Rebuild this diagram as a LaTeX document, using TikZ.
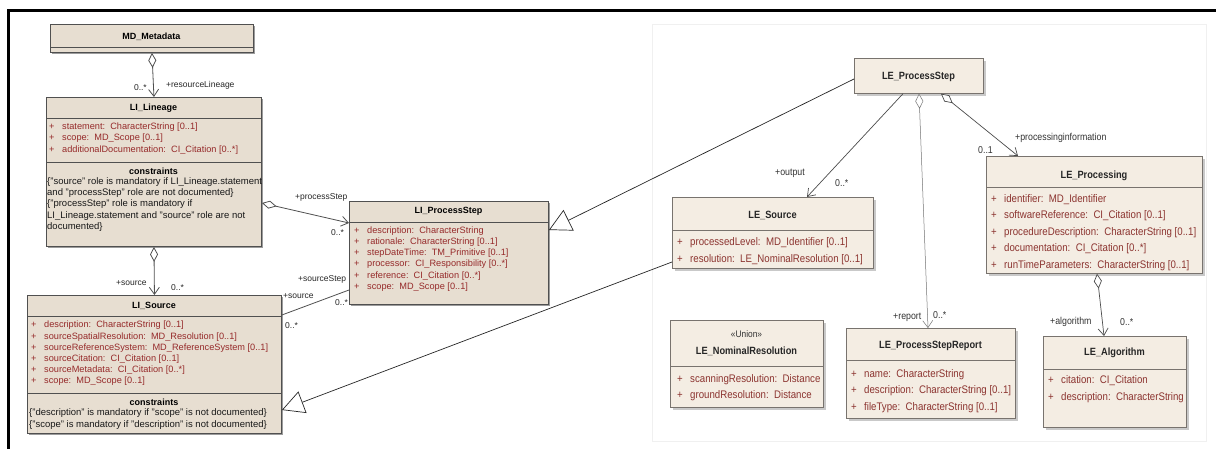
\documentclass[tikz,border=0pt]{standalone}
\usepackage{fontspec}
\setmainfont{Liberation Sans}
\newfontfamily\narrowfont[FakeStretch=0.88]{Liberation Sans}
\usetikzlibrary{arrows.meta,shadows}

\definecolor{lfill}{RGB}{231,222,209}
\definecolor{rfill}{RGB}{244,237,227}
\definecolor{boxline}{RGB}{80,80,80}
\definecolor{rline}{RGB}{120,115,110}
\definecolor{attrred}{RGB}{150,42,42}
\definecolor{rattrred}{RGB}{140,52,48}

\newcommand{\pl}{\makebox[13pt][l]{+}}

\tikzset{
  lbox/.style={draw=boxline, line width=0.9pt, fill=lfill, inner sep=0, anchor=north west,
    drop shadow={shadow xshift=2pt, shadow yshift=-2pt, fill=black!55, opacity=0.7}},
  rbox/.style={draw=rline, line width=0.7pt, fill=rfill, inner sep=0, anchor=north west,
    drop shadow={shadow xshift=3pt, shadow yshift=-3pt, fill=black!35, opacity=0.6}},
  lsep/.style={draw=boxline, line width=0.9pt},
  rsep/.style={draw=rline, line width=0.7pt},
  ltitle/.style={font=\bfseries\fontsize{9}{11}\selectfont, inner sep=0},
  rtitle/.style={font=\narrowfont\bfseries\fontsize{10.5}{12}\selectfont, inner sep=0, text=black!85},
  lattr/.style={anchor=west, align=left, inner sep=0, text=attrred, font=\fontsize{9.2}{11.2}\selectfont},
  lcons/.style={anchor=west, align=left, inner sep=0, text=black!90, font=\fontsize{9.5}{11.25}\selectfont},
  rattr/.style={anchor=west, align=left, inner sep=0, text=rattrred, font=\narrowfont\fontsize{11}{16.6}\selectfont},
  lab/.style={inner sep=0, text=black!85, font=\fontsize{8.5}{10}\selectfont},
  rlab/.style={inner sep=0, text=black!80, font=\narrowfont\fontsize{10}{12}\selectfont},
  assoc/.style={draw=boxline, line width=0.8pt},
  rassoc/.style={draw=black!70, line width=0.7pt},
  agg/.style={{Diamond[length=15pt,width=8pt,fill=white]}-{Straight Barb[length=7pt,width=10pt]}},
  nav/.style={-{Straight Barb[length=7pt,width=10pt]}},
  gen/.style={draw=black!85, line width=0.7pt, -{Triangle[length=22pt,width=23pt,fill=white]}},
}

\begin{document}
\begin{tikzpicture}[x=1pt,y=-1pt]
\useasboundingbox (0,0) rectangle (1216,449);
\fill[white] (0,0) rectangle (1216,449);

% outer frame (top and left rules)
\draw[line width=3pt] (8.5,449) -- (8.5,11) -- (1216,11);
% faint panel behind the LE_ classes
\draw[black!6, line width=0.6pt] (652,24) rectangle (1206,441);

% ---------- LI_ package ----------
\node[lbox, minimum width=203, minimum height=28] (md) at (50,24) {};
\draw[lsep] ([yshift=-23pt]md.north west) -- ([yshift=-23pt]md.north east);
\node[ltitle] (md-t) at (151.5,37) {MD\_Metadata};

\node[lbox, minimum width=215, minimum height=149] (lin) at (46,97) {};
\draw[lsep] ([yshift=-21pt]lin.north west) -- ([yshift=-21pt]lin.north east);
\draw[lsep] ([yshift=-65pt]lin.north west) -- ([yshift=-65pt]lin.north east);
\node[ltitle] (lin-t) at (153.5,108) {LI\_Lineage};
\node[lattr] (lin-a) at (49,138.5) {\pl statement:\ \ CharacterString [0..1]\\ \pl scope:\ \ MD\_Scope [0..1]\\ \pl additionalDocumentation:\ \ CI\_Citation [0..*]};
\node[ltitle] (lin-c) at (153.5,171) {constraints};
\node[lcons] (lin-ct) at (47,204.5) {\{"source" role is mandatory if LI\_Lineage.statement\\ and "processStep" role are not documented\}\\ \{"processStep" role is mandatory if\\ LI\_Lineage.statement and "source" role are not\\ documented\}};

\node[lbox, minimum width=254, minimum height=138] (lis) at (27,295) {};
\draw[lsep] ([yshift=-21pt]lis.north west) -- ([yshift=-21pt]lis.north east);
\draw[lsep] ([yshift=-98pt]lis.north west) -- ([yshift=-98pt]lis.north east);
\node[ltitle] (lis-t) at (154,306) {LI\_Source};
\node[lattr] (lis-a) at (31,353.5) {\pl description:\ \ CharacterString [0..1]\\ \pl sourceSpatialResolution:\ \ MD\_Resolution [0..1]\\ \pl sourceReferenceSystem:\ \ MD\_ReferenceSystem [0..1]\\ \pl sourceCitation:\ \ CI\_Citation [0..1]\\ \pl sourceMetadata:\ \ CI\_Citation [0..*]\\ \pl scope:\ \ MD\_Scope [0..1]};
\node[ltitle] (lis-c) at (154,402) {constraints};
\node[lcons] (lis-ct) at (29,419) {\{"description" is mandatory if "scope" is not documented\}\\ \{"scope" is mandatory if "description" is not documented\}};

\node[lbox, minimum width=199, minimum height=103] (lip) at (349,201) {};
\draw[lsep] ([yshift=-21pt]lip.north west) -- ([yshift=-21pt]lip.north east);
\node[ltitle] (lip-t) at (448.5,211) {LI\_ProcessStep};
\node[lattr] (lip-a) at (354,259) {\pl description:\ \ CharacterString\\ \pl rationale:\ \ CharacterString [0..1]\\ \pl stepDateTime:\ \ TM\_Primitive [0..1]\\ \pl processor:\ \ CI\_Responsibility [0..*]\\ \pl reference:\ \ CI\_Citation [0..*]\\ \pl scope:\ \ MD\_Scope [0..1]};

% LI_ associations
\draw[assoc, agg] (md.south) -- (lin.north);
\draw[assoc, agg] (lin.south) -- (lis.north);
\draw[assoc, agg] ([yshift=-106pt]lin.north east) -- ([yshift=-22pt]lip.north west);
\draw[assoc] ([yshift=-20pt]lis.north east) -- ([yshift=-89pt]lip.north west);

\node[lab, anchor=east] (l-md1) at (147,88) {0..*};
\node[lab, anchor=west] (l-md2) at (166,85) {+resourceLineage};
\node[lab, anchor=west] (l-ps1) at (295,197) {+processStep};
\node[lab, anchor=west] (l-ps2) at (331,233) {0..*};
\node[lab, anchor=west] (l-ss1) at (298,279) {+sourceStep};
\node[lab, anchor=west] (l-ss2) at (283,296) {+source};
\node[lab, anchor=west] (l-ss3) at (285,326) {0..*};
\node[lab, anchor=west] (l-ss4) at (335,303) {0..*};
\node[lab, anchor=west] (l-so1) at (116,283) {+source};
\node[lab, anchor=west] (l-so2) at (171,288) {0..*};

% ---------- LE_ package ----------
\node[rbox, minimum width=129, minimum height=35] (leps) at (854,58) {};
\node[rtitle] (leps-t) at (918.5,76.5) {LE\_ProcessStep};

\node[rbox, minimum width=201, minimum height=71] (les) at (672,197) {};
\draw[rsep] ([yshift=-33pt]les.north west) -- ([yshift=-33pt]les.north east);
\node[rtitle] (les-t) at (772.5,215) {LE\_Source};
\node[rattr] (les-a) at (677,251) {\pl processedLevel:\ \ MD\_Identifier [0..1]\\ \pl resolution:\ \ LE\_NominalResolution [0..1]};

\node[rbox, minimum width=153, minimum height=87] (lenr) at (670,320) {};
\draw[rsep] ([yshift=-46pt]lenr.north west) -- ([yshift=-46pt]lenr.north east);
\node[inner sep=0, font=\narrowfont\fontsize{9.5}{11}\selectfont, text=black!80] (lenr-s) at (746.5,334.5) {«Union»};
\node[rtitle] (lenr-t) at (746.5,351) {LE\_NominalResolution};
\node[rattr] (lenr-a) at (677,387.5) {\pl scanningResolution:\ \ Distance\\ \pl groundResolution:\ \ Distance};

\node[rbox, minimum width=169, minimum height=90] (lepsr) at (846,328) {};
\draw[rsep] ([yshift=-32pt]lepsr.north west) -- ([yshift=-32pt]lepsr.north east);
\node[rtitle] (lepsr-t) at (930.5,345.5) {LE\_ProcessStepReport};
\node[rattr] (lepsr-a) at (851,391) {\pl name:\ \ CharacterString\\ \pl description:\ \ CharacterString [0..1]\\ \pl fileType:\ \ CharacterString [0..1]};

\node[rbox, minimum width=216, minimum height=117] (lep) at (986,156) {};
\draw[rsep] ([yshift=-31pt]lep.north west) -- ([yshift=-31pt]lep.north east);
\node[rtitle] (lep-t) at (1094,175.5) {LE\_Processing};
\node[rattr] (lep-a) at (991,232.5) {\pl identifier:\ \ MD\_Identifier\\ \pl softwareReference:\ \ CI\_Citation [0..1]\\ \pl procedureDescription:\ \ CharacterString [0..1]\\ \pl documentation:\ \ CI\_Citation [0..*]\\ \pl runTimeParameters:\ \ CharacterString [0..1]};

\node[rbox, minimum width=143, minimum height=91] (lea) at (1043,336) {};
\draw[rsep] ([yshift=-33pt]lea.north west) -- ([yshift=-33pt]lea.north east);
\node[rtitle] (lea-t) at (1114.5,353) {LE\_Algorithm};
\node[rattr] (lea-a) at (1048,389) {\pl citation:\ \ CI\_Citation\\ \pl description:\ \ CharacterString};

% LE_ associations
\draw[rassoc, nav] ([xshift=49pt]leps.south west) -- ([xshift=135pt]les.north west);
\draw[rassoc, draw=black!55, line width=0.5pt, agg] ([xshift=65pt]leps.south west) -- ([xshift=82pt]lepsr.north west);
\draw[rassoc, agg] ([xshift=87pt]leps.south west) -- ([xshift=32pt]lep.north west);
\draw[rassoc, agg] ([xshift=111pt]lep.south west) -- ([xshift=61pt]lea.north west);

\node[rlab, anchor=west] (r-out1) at (775,173) {+output};
\node[rlab, anchor=west] (r-out2) at (835,183) {0..*};
\node[rlab, anchor=west] (r-pi1) at (978,150) {0..1};
\node[rlab, anchor=west] (r-pi2) at (1015,138) {+processinginformation};
\node[rlab, anchor=west] (r-rep1) at (893,317) {+report};
\node[rlab, anchor=west] (r-rep2) at (933,315) {0..*};
\node[rlab, anchor=west] (r-alg1) at (1050,322) {+algorithm};
\node[rlab, anchor=west] (r-alg2) at (1120,322) {0..*};

% generalizations LE_ -> LI_
\draw[gen] ([yshift=-21pt]leps.north west) -- ([yshift=-29pt]lip.north east);
\draw[gen] ([yshift=-65pt]les.north west) -- ([yshift=-115pt]lis.north east);
\end{tikzpicture}
\end{document}
